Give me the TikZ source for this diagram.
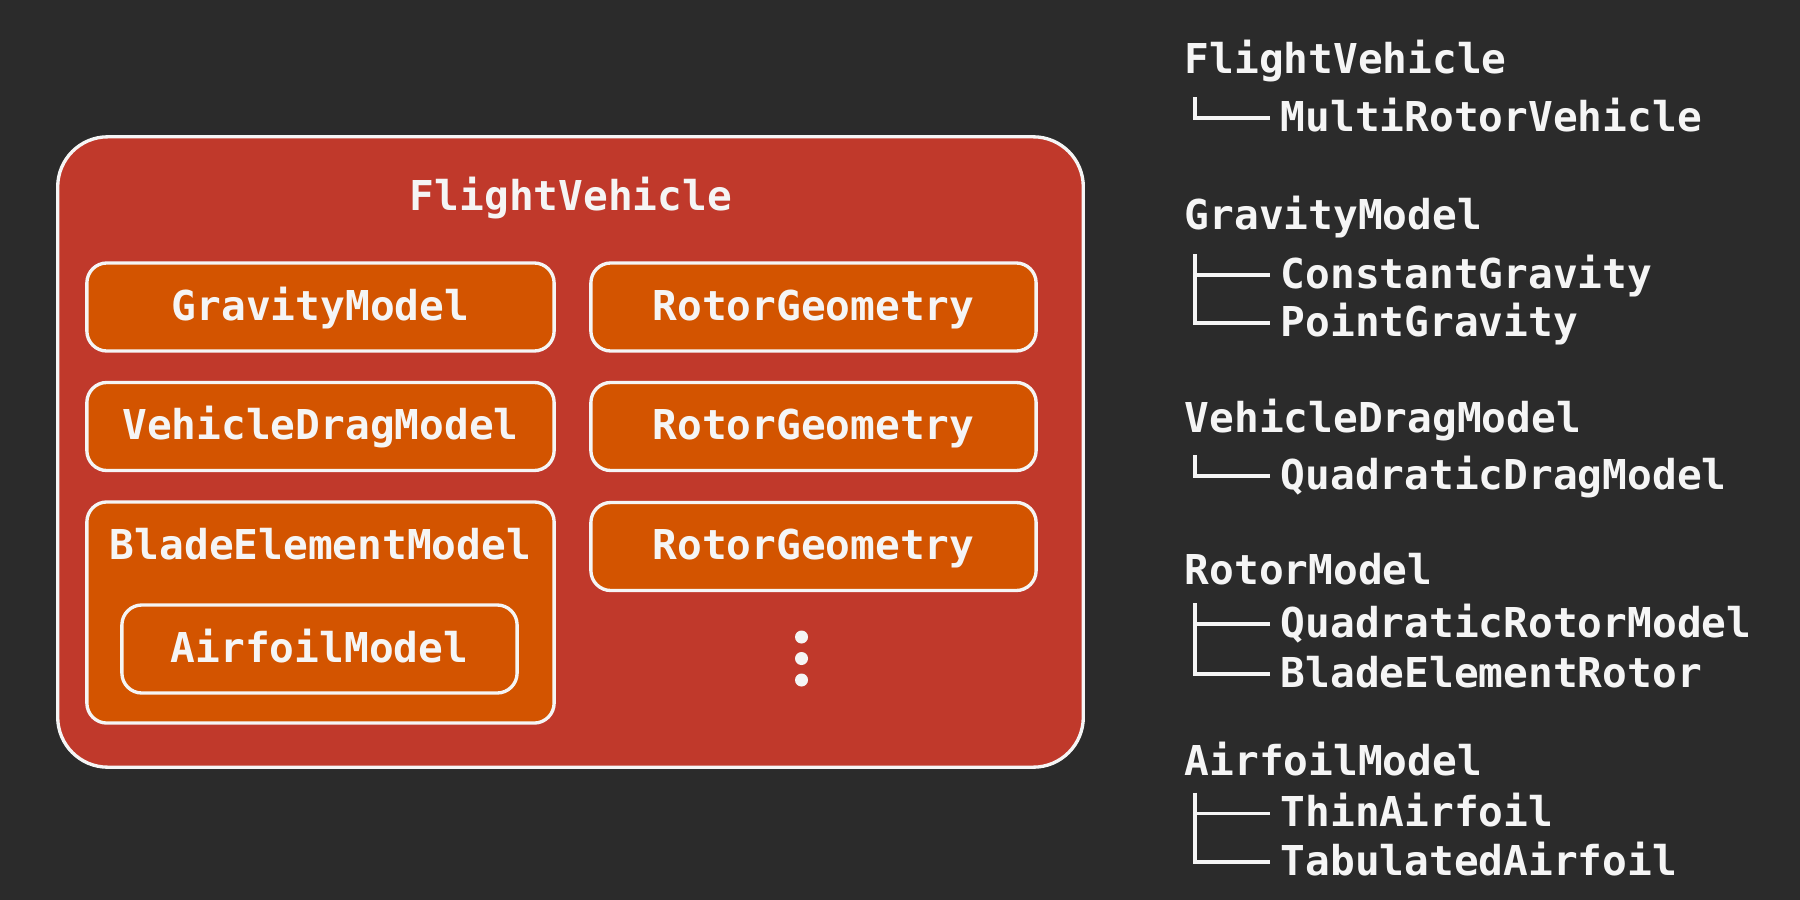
\documentclass[tikz,border=0pt]{standalone}
\usepackage{fontspec}
\setmonofont{DejaVu Sans Mono}
\usetikzlibrary{calc}
\definecolor{bgdark}{HTML}{2B2B2B}
\definecolor{vehred}{HTML}{C0392B}
\definecolor{modorange}{HTML}{D35400}
\definecolor{txtwhite}{HTML}{F5F5F5}
\begin{document}
\begin{tikzpicture}[x=0.01cm, y=-0.01cm,
    lbl/.style={text=txtwhite, font=\ttfamily\bfseries\fontsize{11.7}{14}\selectfont,
      inner sep=0pt, text height=0.9em, text depth=0.15em},
    modbox/.style={draw=txtwhite, fill=modorange, line width=0.95pt, rounded corners=0.2cm,
      minimum height=0.88cm, inner sep=0pt},
    tree/.style={draw=txtwhite, line width=0.9pt}]
    \useasboundingbox[fill=bgdark] (0,0) rectangle (1800,900);
    % the vehicle and its models
    \node (b0) at (570.5,452) [draw=txtwhite, fill=vehred, line width=0.95pt, rounded corners=0.5cm,
      minimum width=10.25cm, minimum height=6.3cm] {};
    \node (q0) at (571,197.5) [lbl] {FlightVehicle};
    \node (b1) at (320.5,307) [modbox, minimum width=4.67cm, lbl] {GravityModel};
    \node (b2) at (813.5,307) [modbox, minimum width=4.45cm, lbl] {RotorGeometry};
    \node (b3) at (320.5,426.5) [modbox, minimum width=4.67cm, lbl] {VehicleDragModel};
    \node (b4) at (813.5,426.5) [modbox, minimum width=4.45cm, lbl] {RotorGeometry};
    \node (b5) at (320.5,612.5) [modbox, minimum width=4.67cm, minimum height=2.21cm] {};
    \node (q1) at (320.5,546.5) [lbl] {BladeElementModel};
    \node (b6) at (319.5,649) [modbox, minimum width=3.95cm, lbl] {AirfoilModel};
    \node (b7) at (813.5,546.5) [modbox, minimum width=4.45cm, lbl] {RotorGeometry};
    \fill[txtwhite] (801.5,637) circle (0.065cm);
    \fill[txtwhite] (801.5,658.5) circle (0.065cm);
    \fill[txtwhite] (801.5,680) circle (0.065cm);
    % class tree
    \node (t0) at (1184,60) [lbl, anchor=west] {FlightVehicle};
    \node (t1) at (1280,118) [lbl, anchor=west] {MultiRotorVehicle};
    \node (t2) at (1184,216) [lbl, anchor=west] {GravityModel};
    \node (t3) at (1280,275) [lbl, anchor=west] {ConstantGravity};
    \node (t4) at (1280,323) [lbl, anchor=west] {PointGravity};
    \node (t5) at (1184,419) [lbl, anchor=west] {VehicleDragModel};
    \node (t6) at (1280,476) [lbl, anchor=west] {QuadraticDragModel};
    \node (t7) at (1184,571) [lbl, anchor=west] {RotorModel};
    \node (t8) at (1280,624) [lbl, anchor=west] {QuadraticRotorModel};
    \node (t9) at (1280,674) [lbl, anchor=west] {BladeElementRotor};
    \node (t10) at (1184,762) [lbl, anchor=west] {AirfoilModel};
    \node (t11) at (1280,813.5) [lbl, anchor=west] {ThinAirfoil};
    \node (t12) at (1280,862) [lbl, anchor=west] {TabulatedAirfoil};
    \draw[tree] ($(t1.west)+(-85,-21)$) |- ($(t1.west)+(-10,0)$);
    \draw[tree] ($(t3.west)+(-85,-21)$) |- ($(t4.west)+(-10,0)$);
    \draw[tree] ($(t3.west)+(-85,0)$) -- ($(t3.west)+(-10,0)$);
    \draw[tree] ($(t6.west)+(-85,-21)$) |- ($(t6.west)+(-10,0)$);
    \draw[tree] ($(t8.west)+(-85,-21)$) |- ($(t9.west)+(-10,0)$);
    \draw[tree] ($(t8.west)+(-85,0)$) -- ($(t8.west)+(-10,0)$);
    \draw[tree] ($(t11.west)+(-85,-21)$) |- ($(t12.west)+(-10,0)$);
    \draw[tree] ($(t11.west)+(-85,0)$) -- ($(t11.west)+(-10,0)$);
  \end{tikzpicture}
\end{document}
